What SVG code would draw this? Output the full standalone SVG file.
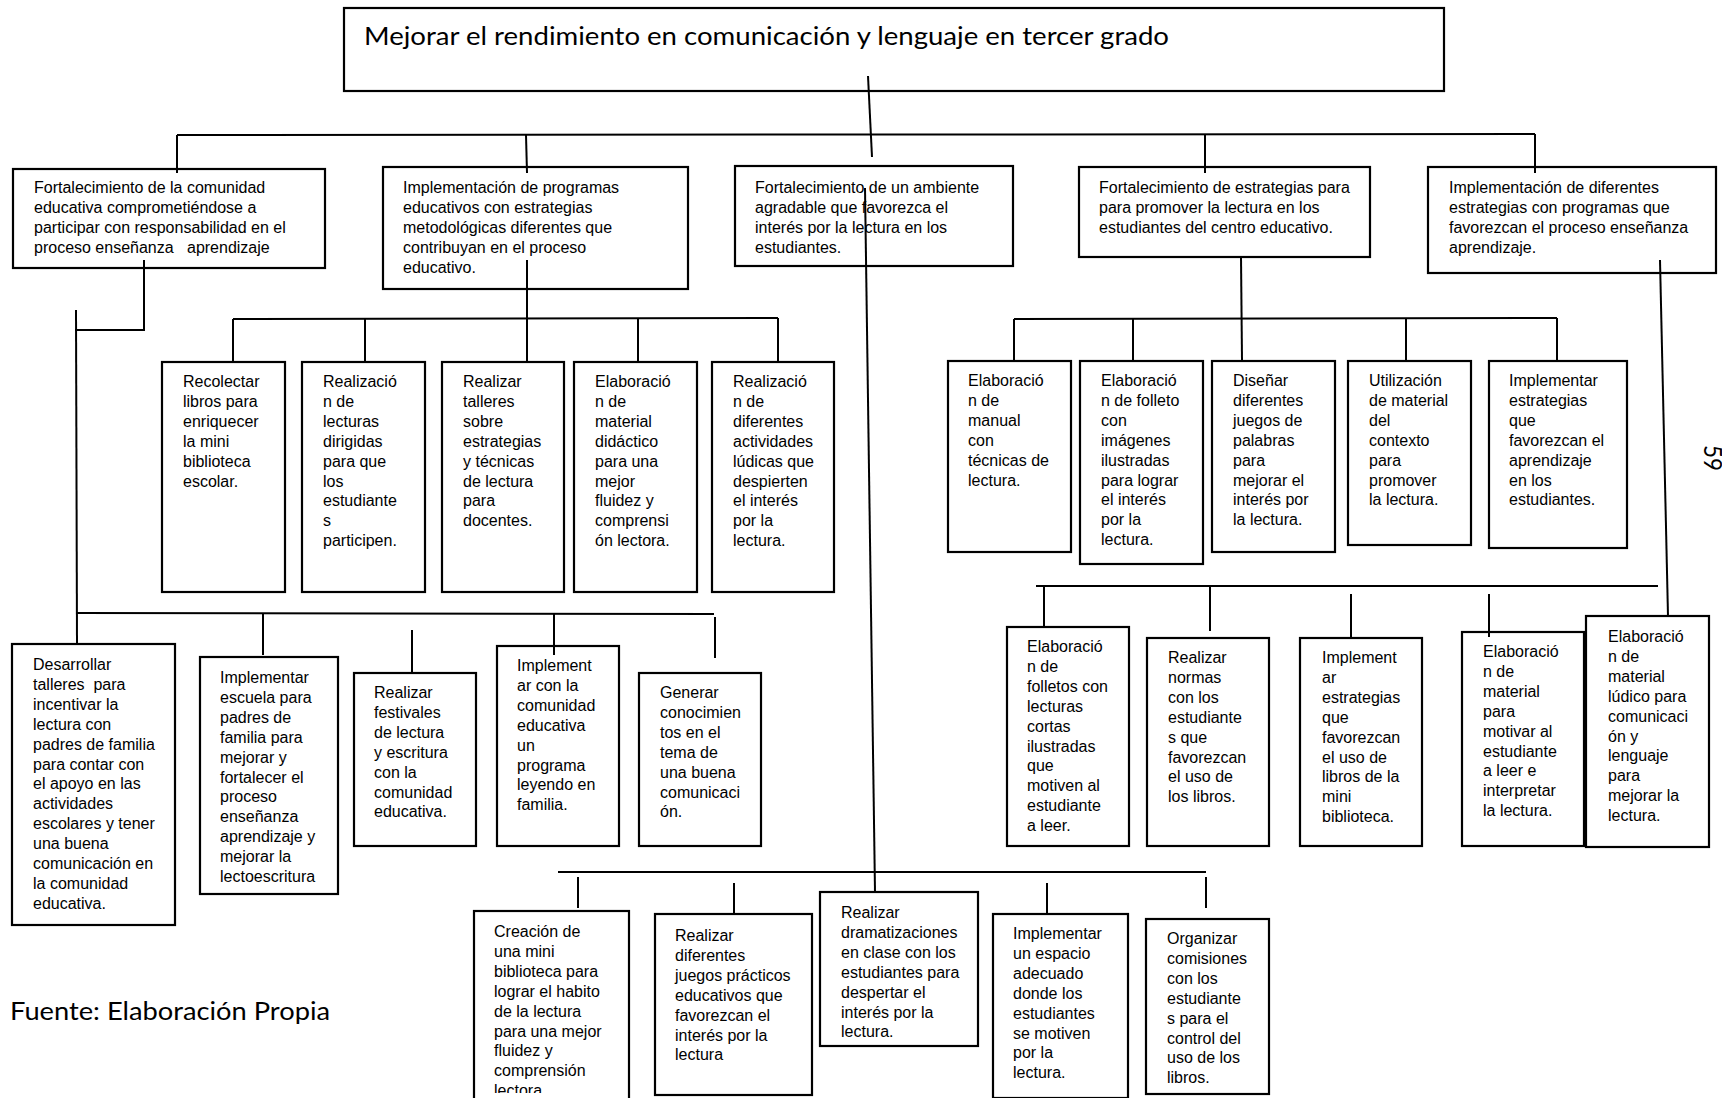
<svg xmlns="http://www.w3.org/2000/svg" width="1722" height="1098" viewBox="0 0 1722 1098">
<style>
.box{fill:#fff;stroke:#000;stroke-width:2.2}
.t{font-family:"Liberation Sans",Arial,sans-serif;font-size:16px;fill:#000}
.c{stroke:#000;stroke-width:2;fill:none}
.big{font-family:Lato,"Liberation Sans",sans-serif;font-size:25px;fill:#000}
</style>
<defs>
<clipPath id="clipE1"><rect x="470" y="900" width="170" height="193"/></clipPath>
</defs>
<rect width="1722" height="1098" fill="#fff"/>

<g id="root">
<rect class="box" x="344" y="8" width="1100" height="83"/>
<text class="big" x="364" y="45" textLength="805" lengthAdjust="spacingAndGlyphs">Mejorar el rendimiento en comunicación y lenguaje en tercer grado</text>
</g>

<g id="n1">
<rect class="box" x="13" y="169" width="312" height="99"/>
<text class="t" x="34" y="193"><tspan x="34">Fortalecimiento de la comunidad</tspan><tspan x="34" dy="19.9">educativa comprometiéndose a</tspan><tspan x="34" dy="19.9">participar con responsabilidad en el</tspan><tspan x="34" dy="19.9">proceso enseñanza&#160;&#160; aprendizaje</tspan></text>
</g>
<g id="n2">
<rect class="box" x="383" y="167" width="305" height="122"/>
<text class="t" x="403" y="193"><tspan x="403">Implementación de programas</tspan><tspan x="403" dy="19.9">educativos con estrategias</tspan><tspan x="403" dy="19.9">metodológicas diferentes que</tspan><tspan x="403" dy="19.9">contribuyan en el proceso</tspan><tspan x="403" dy="19.9">educativo.</tspan></text>
</g>
<g id="n3">
<rect class="box" x="735" y="166" width="278" height="100"/>
<text class="t" x="755" y="193"><tspan x="755">Fortalecimiento de un ambiente</tspan><tspan x="755" dy="19.9">agradable que favorezca el</tspan><tspan x="755" dy="19.9">interés por la lectura en los</tspan><tspan x="755" dy="19.9">estudiantes.</tspan></text>
</g>
<g id="n4">
<rect class="box" x="1079" y="167" width="291" height="90"/>
<text class="t" x="1099" y="193"><tspan x="1099">Fortalecimiento de estrategias para</tspan><tspan x="1099" dy="19.9">para promover la lectura en los</tspan><tspan x="1099" dy="19.9">estudiantes del centro educativo.</tspan></text>
</g>
<g id="n5">
<rect class="box" x="1428" y="167" width="288" height="106"/>
<text class="t" x="1449" y="193"><tspan x="1449">Implementación de diferentes</tspan><tspan x="1449" dy="19.9">estrategias con programas que</tspan><tspan x="1449" dy="19.9">favorezcan el proceso enseñanza</tspan><tspan x="1449" dy="19.9">aprendizaje.</tspan></text>
</g>

<!-- Row A -->
<g id="a1">
<rect class="box" x="162" y="362" width="123" height="230"/>
<text class="t" y="387"><tspan x="183">Recolectar</tspan><tspan x="183" dy="19.9">libros para</tspan><tspan x="183" dy="19.9">enriquecer</tspan><tspan x="183" dy="19.9">la mini</tspan><tspan x="183" dy="19.9">biblioteca</tspan><tspan x="183" dy="19.9">escolar.</tspan></text>
</g>
<g id="a2">
<rect class="box" x="302" y="362" width="123" height="230"/>
<text class="t" y="387"><tspan x="323">Realizació</tspan><tspan x="323" dy="19.9">n de</tspan><tspan x="323" dy="19.9">lecturas</tspan><tspan x="323" dy="19.9">dirigidas</tspan><tspan x="323" dy="19.9">para que</tspan><tspan x="323" dy="19.9">los</tspan><tspan x="323" dy="19.9">estudiante</tspan><tspan x="323" dy="19.9">s</tspan><tspan x="323" dy="19.9">participen.</tspan></text>
</g>
<g id="a3">
<rect class="box" x="442" y="362" width="122" height="230"/>
<text class="t" y="387"><tspan x="463">Realizar</tspan><tspan x="463" dy="19.9">talleres</tspan><tspan x="463" dy="19.9">sobre</tspan><tspan x="463" dy="19.9">estrategias</tspan><tspan x="463" dy="19.9">y técnicas</tspan><tspan x="463" dy="19.9">de lectura</tspan><tspan x="463" dy="19.9">para</tspan><tspan x="463" dy="19.9">docentes.</tspan></text>
</g>
<g id="a4">
<rect class="box" x="574" y="362" width="123" height="230"/>
<text class="t" y="387"><tspan x="595">Elaboració</tspan><tspan x="595" dy="19.9">n de</tspan><tspan x="595" dy="19.9">material</tspan><tspan x="595" dy="19.9">didáctico</tspan><tspan x="595" dy="19.9">para una</tspan><tspan x="595" dy="19.9">mejor</tspan><tspan x="595" dy="19.9">fluidez y</tspan><tspan x="595" dy="19.9">comprensi</tspan><tspan x="595" dy="19.9">ón lectora.</tspan></text>
</g>
<g id="a5">
<rect class="box" x="712" y="362" width="122" height="230"/>
<text class="t" y="387"><tspan x="733">Realizació</tspan><tspan x="733" dy="19.9">n de</tspan><tspan x="733" dy="19.9">diferentes</tspan><tspan x="733" dy="19.9">actividades</tspan><tspan x="733" dy="19.9">lúdicas que</tspan><tspan x="733" dy="19.9">despierten</tspan><tspan x="733" dy="19.9">el interés</tspan><tspan x="733" dy="19.9">por la</tspan><tspan x="733" dy="19.9">lectura.</tspan></text>
</g>

<!-- Row B -->
<g id="b1">
<rect class="box" x="948" y="361" width="123" height="191"/>
<text class="t" y="386"><tspan x="968">Elaboració</tspan><tspan x="968" dy="19.9">n de</tspan><tspan x="968" dy="19.9">manual</tspan><tspan x="968" dy="19.9">con</tspan><tspan x="968" dy="19.9">técnicas de</tspan><tspan x="968" dy="19.9">lectura.</tspan></text>
</g>
<g id="b2">
<rect class="box" x="1080" y="361" width="123" height="203"/>
<text class="t" y="386"><tspan x="1101">Elaboració</tspan><tspan x="1101" dy="19.9">n de folleto</tspan><tspan x="1101" dy="19.9">con</tspan><tspan x="1101" dy="19.9">imágenes</tspan><tspan x="1101" dy="19.9">ilustradas</tspan><tspan x="1101" dy="19.9">para lograr</tspan><tspan x="1101" dy="19.9">el interés</tspan><tspan x="1101" dy="19.9">por la</tspan><tspan x="1101" dy="19.9">lectura.</tspan></text>
</g>
<g id="b3">
<rect class="box" x="1212" y="361" width="123" height="191"/>
<text class="t" y="386"><tspan x="1233">Diseñar</tspan><tspan x="1233" dy="19.9">diferentes</tspan><tspan x="1233" dy="19.9">juegos de</tspan><tspan x="1233" dy="19.9">palabras</tspan><tspan x="1233" dy="19.9">para</tspan><tspan x="1233" dy="19.9">mejorar el</tspan><tspan x="1233" dy="19.9">interés por</tspan><tspan x="1233" dy="19.9">la lectura.</tspan></text>
</g>
<g id="b4">
<rect class="box" x="1348" y="361" width="123" height="184"/>
<text class="t" y="386"><tspan x="1369">Utilización</tspan><tspan x="1369" dy="19.9">de material</tspan><tspan x="1369" dy="19.9">del</tspan><tspan x="1369" dy="19.9">contexto</tspan><tspan x="1369" dy="19.9">para</tspan><tspan x="1369" dy="19.9">promover</tspan><tspan x="1369" dy="19.9">la lectura.</tspan></text>
</g>
<g id="b5">
<rect class="box" x="1489" y="361" width="138" height="187"/>
<text class="t" y="386"><tspan x="1509">Implementar</tspan><tspan x="1509" dy="19.9">estrategias</tspan><tspan x="1509" dy="19.9">que</tspan><tspan x="1509" dy="19.9">favorezcan el</tspan><tspan x="1509" dy="19.9">aprendizaje</tspan><tspan x="1509" dy="19.9">en los</tspan><tspan x="1509" dy="19.9">estudiantes.</tspan></text>
</g>

<!-- Row C -->
<g id="c1">
<rect class="box" x="1007" y="627" width="122" height="219"/>
<text class="t" y="652"><tspan x="1027">Elaboració</tspan><tspan x="1027" dy="19.9">n de</tspan><tspan x="1027" dy="19.9">folletos con</tspan><tspan x="1027" dy="19.9">lecturas</tspan><tspan x="1027" dy="19.9">cortas</tspan><tspan x="1027" dy="19.9">ilustradas</tspan><tspan x="1027" dy="19.9">que</tspan><tspan x="1027" dy="19.9">motiven al</tspan><tspan x="1027" dy="19.9">estudiante</tspan><tspan x="1027" dy="19.9">a leer.</tspan></text>
</g>
<g id="c2">
<rect class="box" x="1147" y="638" width="122" height="208"/>
<text class="t" y="663"><tspan x="1168">Realizar</tspan><tspan x="1168" dy="19.9">normas</tspan><tspan x="1168" dy="19.9">con los</tspan><tspan x="1168" dy="19.9">estudiante</tspan><tspan x="1168" dy="19.9">s que</tspan><tspan x="1168" dy="19.9">favorezcan</tspan><tspan x="1168" dy="19.9">el uso de</tspan><tspan x="1168" dy="19.9">los libros.</tspan></text>
</g>
<g id="c3">
<rect class="box" x="1300" y="638" width="122" height="208"/>
<text class="t" y="663"><tspan x="1322">Implement</tspan><tspan x="1322" dy="19.9">ar</tspan><tspan x="1322" dy="19.9">estrategias</tspan><tspan x="1322" dy="19.9">que</tspan><tspan x="1322" dy="19.9">favorezcan</tspan><tspan x="1322" dy="19.9">el uso de</tspan><tspan x="1322" dy="19.9">libros de la</tspan><tspan x="1322" dy="19.9">mini</tspan><tspan x="1322" dy="19.9">biblioteca.</tspan></text>
</g>
<g id="c4">
<rect class="box" x="1462" y="632" width="122" height="214"/>
<text class="t" y="657"><tspan x="1483">Elaboració</tspan><tspan x="1483" dy="19.9">n de</tspan><tspan x="1483" dy="19.9">material</tspan><tspan x="1483" dy="19.9">para</tspan><tspan x="1483" dy="19.9">motivar al</tspan><tspan x="1483" dy="19.9">estudiante</tspan><tspan x="1483" dy="19.9">a leer e</tspan><tspan x="1483" dy="19.9">interpretar</tspan><tspan x="1483" dy="19.9">la lectura.</tspan></text>
</g>
<g id="c5">
<rect class="box" x="1586" y="616" width="123" height="231"/>
<text class="t" y="642"><tspan x="1608">Elaboració</tspan><tspan x="1608" dy="19.9">n de</tspan><tspan x="1608" dy="19.9">material</tspan><tspan x="1608" dy="19.9">lúdico para</tspan><tspan x="1608" dy="19.9">comunicaci</tspan><tspan x="1608" dy="19.9">ón y</tspan><tspan x="1608" dy="19.9">lenguaje</tspan><tspan x="1608" dy="19.9">para</tspan><tspan x="1608" dy="19.9">mejorar la</tspan><tspan x="1608" dy="19.9">lectura.</tspan></text>
</g>

<!-- Row D -->
<g id="d1">
<rect class="box" x="12" y="644" width="163" height="281"/>
<text class="t" y="670"><tspan x="33">Desarrollar</tspan><tspan x="33" dy="19.9">talleres&#160; para</tspan><tspan x="33" dy="19.9">incentivar la</tspan><tspan x="33" dy="19.9">lectura con</tspan><tspan x="33" dy="19.9">padres de familia</tspan><tspan x="33" dy="19.9">para contar con</tspan><tspan x="33" dy="19.9">el apoyo en las</tspan><tspan x="33" dy="19.9">actividades</tspan><tspan x="33" dy="19.9">escolares y tener</tspan><tspan x="33" dy="19.9">una buena</tspan><tspan x="33" dy="19.9">comunicación en</tspan><tspan x="33" dy="19.9">la comunidad</tspan><tspan x="33" dy="19.9">educativa.</tspan></text>
</g>
<g id="d2">
<rect class="box" x="200" y="657" width="138" height="237"/>
<text class="t" y="683"><tspan x="220">Implementar</tspan><tspan x="220" dy="19.9">escuela para</tspan><tspan x="220" dy="19.9">padres de</tspan><tspan x="220" dy="19.9">familia para</tspan><tspan x="220" dy="19.9">mejorar y</tspan><tspan x="220" dy="19.9">fortalecer el</tspan><tspan x="220" dy="19.9">proceso</tspan><tspan x="220" dy="19.9">enseñanza</tspan><tspan x="220" dy="19.9">aprendizaje y</tspan><tspan x="220" dy="19.9">mejorar la</tspan><tspan x="220" dy="19.9">lectoescritura</tspan></text>
</g>
<g id="d3">
<rect class="box" x="354" y="673" width="122" height="173"/>
<text class="t" y="698"><tspan x="374">Realizar</tspan><tspan x="374" dy="19.9">festivales</tspan><tspan x="374" dy="19.9">de lectura</tspan><tspan x="374" dy="19.9">y escritura</tspan><tspan x="374" dy="19.9">con la</tspan><tspan x="374" dy="19.9">comunidad</tspan><tspan x="374" dy="19.9">educativa.</tspan></text>
</g>
<g id="d4">
<rect class="box" x="497" y="646" width="122" height="200"/>
<text class="t" y="671"><tspan x="517">Implement</tspan><tspan x="517" dy="19.9">ar con la</tspan><tspan x="517" dy="19.9">comunidad</tspan><tspan x="517" dy="19.9">educativa</tspan><tspan x="517" dy="19.9">un</tspan><tspan x="517" dy="19.9">programa</tspan><tspan x="517" dy="19.9">leyendo en</tspan><tspan x="517" dy="19.9">familia.</tspan></text>
</g>
<g id="d5">
<rect class="box" x="639" y="673" width="122" height="173"/>
<text class="t" y="698"><tspan x="660">Generar</tspan><tspan x="660" dy="19.9">conocimien</tspan><tspan x="660" dy="19.9">tos en el</tspan><tspan x="660" dy="19.9">tema de</tspan><tspan x="660" dy="19.9">una buena</tspan><tspan x="660" dy="19.9">comunicaci</tspan><tspan x="660" dy="19.9">ón.</tspan></text>
</g>

<!-- Row E -->
<g id="e1">
<rect class="box" x="474" y="911" width="155" height="200"/>
<text class="t" y="937" clip-path="url(#clipE1)"><tspan x="494">Creación de</tspan><tspan x="494" dy="19.9">una mini</tspan><tspan x="494" dy="19.9">biblioteca para</tspan><tspan x="494" dy="19.9">lograr el habito</tspan><tspan x="494" dy="19.9">de la lectura</tspan><tspan x="494" dy="19.9">para una mejor</tspan><tspan x="494" dy="19.9">fluidez y</tspan><tspan x="494" dy="19.9">comprensión</tspan><tspan x="494" dy="19.9">lectora.</tspan></text>
</g>
<g id="e2">
<rect class="box" x="655" y="914" width="157" height="181"/>
<text class="t" y="941"><tspan x="675">Realizar</tspan><tspan x="675" dy="19.9">diferentes</tspan><tspan x="675" dy="19.9">juegos prácticos</tspan><tspan x="675" dy="19.9">educativos que</tspan><tspan x="675" dy="19.9">favorezcan el</tspan><tspan x="675" dy="19.9">interés por la</tspan><tspan x="675" dy="19.9">lectura</tspan></text>
</g>
<g id="e3">
<rect class="box" x="820" y="892" width="158" height="154"/>
<text class="t" y="918"><tspan x="841">Realizar</tspan><tspan x="841" dy="19.9">dramatizaciones</tspan><tspan x="841" dy="19.9">en clase con los</tspan><tspan x="841" dy="19.9">estudiantes para</tspan><tspan x="841" dy="19.9">despertar el</tspan><tspan x="841" dy="19.9">interés por la</tspan><tspan x="841" dy="19.9">lectura.</tspan></text>
</g>
<g id="e4">
<rect class="box" x="993" y="914" width="135" height="184"/>
<text class="t" y="939"><tspan x="1013">Implementar</tspan><tspan x="1013" dy="19.9">un espacio</tspan><tspan x="1013" dy="19.9">adecuado</tspan><tspan x="1013" dy="19.9">donde los</tspan><tspan x="1013" dy="19.9">estudiantes</tspan><tspan x="1013" dy="19.9">se motiven</tspan><tspan x="1013" dy="19.9">por la</tspan><tspan x="1013" dy="19.9">lectura.</tspan></text>
</g>
<g id="e5">
<rect class="box" x="1146" y="919" width="123" height="175"/>
<text class="t" y="944"><tspan x="1167">Organizar</tspan><tspan x="1167" dy="19.9">comisiones</tspan><tspan x="1167" dy="19.9">con los</tspan><tspan x="1167" dy="19.9">estudiante</tspan><tspan x="1167" dy="19.9">s para el</tspan><tspan x="1167" dy="19.9">control del</tspan><tspan x="1167" dy="19.9">uso de los</tspan><tspan x="1167" dy="19.9">libros.</tspan></text>
</g>

<g id="connectors">
<!-- top level -->
<line class="c" x1="868" y1="76" x2="872" y2="157"/>
<line class="c" x1="177" y1="135" x2="1535" y2="134"/>
<line class="c" x1="177" y1="135" x2="177" y2="173"/>
<line class="c" x1="526" y1="135" x2="527" y2="173"/>
<line class="c" x1="1205" y1="134" x2="1205" y2="173"/>
<line class="c" x1="1535" y1="134" x2="1535" y2="173"/>
<!-- left column from n1 -->
<polyline class="c" points="144,260 144,330 75,330"/>
<line class="c" x1="76" y1="310" x2="77" y2="644"/>
<!-- row A -->
<line class="c" x1="527" y1="260" x2="527" y2="362"/>
<line class="c" x1="233" y1="319" x2="778" y2="318"/>
<line class="c" x1="233" y1="319" x2="233" y2="362"/>
<line class="c" x1="365" y1="319" x2="365" y2="362"/>
<line class="c" x1="638" y1="319" x2="638" y2="362"/>
<line class="c" x1="778" y1="318" x2="778" y2="362"/>
<!-- row B -->
<line class="c" x1="1241" y1="257" x2="1242" y2="361"/>
<line class="c" x1="1014" y1="319" x2="1557" y2="318"/>
<line class="c" x1="1014" y1="319" x2="1014" y2="361"/>
<line class="c" x1="1133" y1="319" x2="1133" y2="361"/>
<line class="c" x1="1406" y1="319" x2="1406" y2="361"/>
<line class="c" x1="1557" y1="318" x2="1557" y2="361"/>
<!-- row C -->
<line class="c" x1="1660" y1="260" x2="1668" y2="616"/>
<line class="c" x1="1036" y1="586" x2="1658" y2="586"/>
<line class="c" x1="1044" y1="586" x2="1044" y2="627"/>
<line class="c" x1="1210" y1="586" x2="1210" y2="631"/>
<line class="c" x1="1351" y1="594" x2="1351" y2="637"/>
<line class="c" x1="1489" y1="594" x2="1489" y2="637"/>
<!-- row D -->
<line class="c" x1="77" y1="613" x2="714" y2="614"/>
<line class="c" x1="263" y1="613" x2="263" y2="655"/>
<line class="c" x1="412" y1="630" x2="412" y2="672"/>
<line class="c" x1="554" y1="613" x2="554" y2="655"/>
<line class="c" x1="715" y1="617" x2="715" y2="658"/>
<!-- row E -->
<line class="c" x1="865" y1="188" x2="875" y2="892"/>
<line class="c" x1="558" y1="872" x2="1206" y2="872"/>
<line class="c" x1="578" y1="877" x2="578" y2="908"/>
<line class="c" x1="734" y1="883" x2="734" y2="915"/>
<line class="c" x1="1047" y1="883" x2="1047" y2="913"/>
<line class="c" x1="1206" y1="877" x2="1206" y2="908"/>
</g>

<text class="big" x="10" y="1020" font-size="26" textLength="320" lengthAdjust="spacingAndGlyphs">Fuente: Elaboración Propia</text>
<text class="big" font-size="15" transform="translate(1704,445) rotate(90)" textLength="26" lengthAdjust="spacingAndGlyphs">59</text>
</svg>
